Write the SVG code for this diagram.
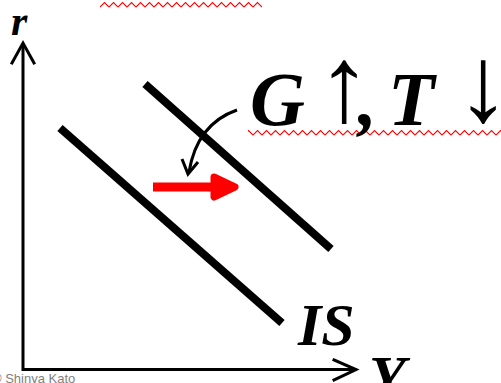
<svg xmlns="http://www.w3.org/2000/svg" width="501" height="383" viewBox="0 0 501 383">
<style>
.ax{fill:none;stroke:#000;stroke-width:3;stroke-linecap:square;stroke-linejoin:miter}
.curve{fill:none;stroke:#000;stroke-width:8}
.lbl{font-family:"Liberation Serif","DejaVu Serif",serif;font-weight:bold;font-style:italic;fill:#000}
.sym{font-family:"Liberation Serif","DejaVu Serif",serif;fill:#000}
</style>
<defs>
<pattern id="wave" patternUnits="userSpaceOnUse" x="100" y="1" width="9" height="8">
<path d="M0,6 L4.5,1.5 L9,6" fill="none" stroke="#ff0000" stroke-width="1.1"/>
</pattern>
</defs>
<rect x="0" y="0" width="501" height="383" fill="#fff"/>
<rect x="100" y="1" width="162" height="8" fill="url(#wave)"/>
<rect x="248" y="129" width="253" height="8" fill="url(#wave)"/>
<g id="axes">
<polyline class="ax" points="23,46 23,369.5 355,369.5"/>
<polyline class="ax" points="12,63 23,43 34,63"/>
<polyline class="ax" points="334,360 356,369.5 334,380"/>
</g>
<g id="IS1"><line class="curve" x1="60" y1="128" x2="282" y2="323"/></g>
<g id="IS2"><line class="curve" x1="145" y1="84" x2="331" y2="249"/></g>
<g id="connectors">
<path d="M237,110 C214,118 195,136 189,172" fill="none" stroke="#000" stroke-width="3"/>
<polyline points="182,159 188,174 198,162" fill="none" stroke="#000" stroke-width="3"/>
<line x1="153" y1="187" x2="226" y2="187" stroke="#ff0000" stroke-width="9"/>
<polygon points="214,177 235,187 214,197" fill="#ff0000" stroke="#ff0000" stroke-width="7" stroke-linejoin="round"/>
</g>
<g id="labels">
<text class="lbl" x="11" y="35" font-size="42">r</text>
<text class="lbl" x="250" y="125" font-size="76">G</text>
<text class="sym" x="317" y="121" font-size="108">↑</text>
<text class="lbl" x="358" y="125" font-size="76">,</text>
<text class="lbl" x="388" y="125" font-size="76">T</text>
<text class="sym" x="456" y="121" font-size="108">↓</text>
<text class="lbl" x="298" y="345" font-size="60">IS</text>
<text class="lbl" x="369" y="397" font-size="60">Y</text>
<text x="-8" y="383" font-size="13" font-family="Liberation Sans, Arial, sans-serif" fill="#7f7f7f">© Shinya Kato</text>
</g>
</svg>
